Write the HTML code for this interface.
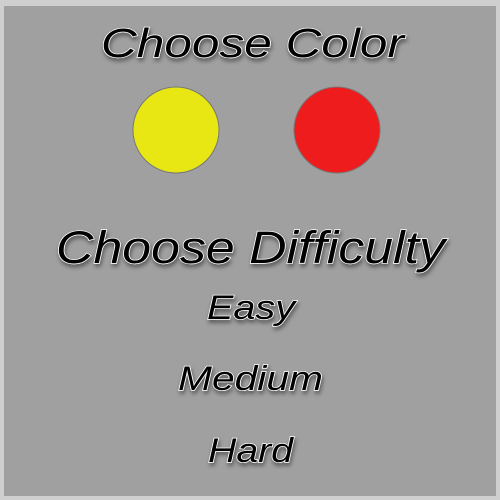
<!DOCTYPE html>
<html><head><style>
html,body{margin:0;padding:0;}
body{width:500px;height:500px;background:#cfcfcf;position:relative;overflow:hidden;}
#panel{position:absolute;left:4px;top:6px;width:492px;height:490px;background:#a0a0a0;}
svg{position:absolute;left:0;top:0;}
text{font-family:"Liberation Sans",sans-serif;font-style:italic;fill:#000;stroke:#fff;stroke-width:1.4px;paint-order:stroke;filter:url(#sh);}
</style></head><body>
<div id="panel"></div>
<svg width="500" height="500" viewBox="0 0 500 500">
<defs><filter id="sh" x="-10%" y="-20%" width="120%" height="150%"><feDropShadow dx="1" dy="3" stdDeviation="2" flood-color="#000" flood-opacity="0.45"/></filter></defs>
<text x="101" y="57" font-size="41" textLength="303" lengthAdjust="spacingAndGlyphs">Choose Color</text>
<circle cx="176" cy="130" r="43" fill="#e8e613" stroke="#777" stroke-width="1"/>
<circle cx="337" cy="130" r="43" fill="#ee1c1c" stroke="#777" stroke-width="1"/>
<text x="56" y="263" font-size="45" textLength="389" lengthAdjust="spacingAndGlyphs">Choose Difficulty</text>
<text x="207" y="319" font-size="34" textLength="88" lengthAdjust="spacingAndGlyphs">Easy</text>
<text x="178" y="390" font-size="34" textLength="145" lengthAdjust="spacingAndGlyphs">Medium</text>
<text x="208" y="462" font-size="34" textLength="85" lengthAdjust="spacingAndGlyphs">Hard</text>
</svg>
</body></html>
